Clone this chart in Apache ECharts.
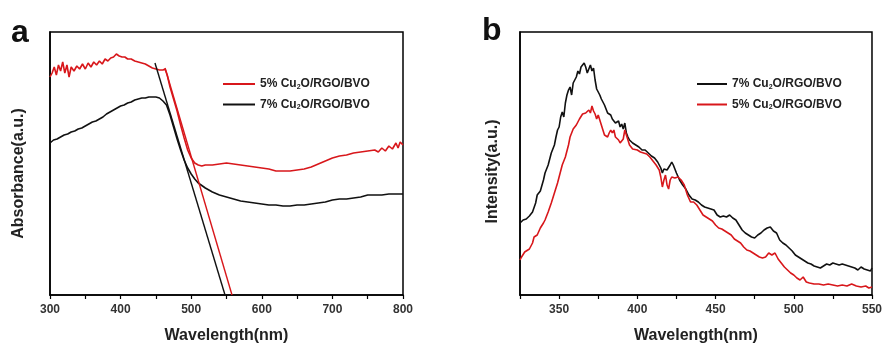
<!DOCTYPE html>
<html><head><meta charset="utf-8">
<script src="https://cdn.jsdelivr.net/npm/echarts@6/dist/echarts.min.js"></script>
<style>html,body{margin:0;padding:0;background:#fff}#c{width:885px;height:350px}</style>
</head><body><div id="c"></div>
<script>
// Panel a: absorbance (arbitrary units), [wavelength nm, value]
const absRed5 = [[300,218],[303,222],[306,228],[309,220],[312,230],[315,224],[318,233],[321,222],[324,230],[327,218],[330,228],[334,224],[338,229],[342,226],[346,231],[350,226],[354,232],[358,228],[362,233],[366,230],[370,234],[374,231],[378,236],[382,234],[386,237],[390,238],[394,241],[398,239],[402,238],[406,238],[410,236],[415,236],[420,234],[425,233],[430,232],[435,231],[440,229],[445,227],[450,226],[455,225],[460,225],[463,226],[466,220],[470,208],[475,196],[480,184],[485,170],[490,157],[495,145],[500,137],[505,132],[510,130],[515,129],[520,130],[530,130],[540,131],[550,132],[560,131],[570,130],[580,129],[590,128],[600,127],[610,126],[620,124],[630,124],[640,124],[650,125],[660,126],[670,128],[680,131],[690,134],[700,137],[710,139],[720,140],[730,142],[740,143],[750,144],[760,145],[765,143],[770,147],[775,144],[780,149],[785,146],[790,152],[793,147],[796,153],[800,150]];
const absBlack7 = [[300,152],[305,155],[310,156],[315,158],[320,160],[325,161],[330,163],[335,164],[340,166],[345,167],[350,169],[355,171],[360,173],[365,174],[370,176],[375,178],[380,181],[385,183],[390,185],[395,187],[400,189],[405,190],[410,192],[415,193],[420,195],[425,196],[430,197],[435,197],[440,198],[445,198],[450,198],[455,197],[460,194],[465,190],[470,180],[475,168],[480,156],[485,145],[490,135],[495,127],[500,121],[505,116],[510,112],[520,107],[530,103],[540,100],[550,98],[560,96],[570,94],[580,93],[590,92],[600,91],[610,90],[620,90],[630,89],[640,89],[650,90],[660,90],[670,91],[680,92],[690,93],[700,95],[710,96],[720,96],[730,97],[740,98],[750,100],[760,100],[770,100],[780,101],[790,101],[800,101]];
const tangentRed = [[463,227],[557.8,0]];
const tangentBlack = [[448.7,232],[547.9,0]];
// Panel b: PL intensity (arbitrary units)
const plBlack7 = [[325,72],[327,75],[329,76],[331,79],[333,83],[335,92],[336,100],[338,104],[340,115],[341,122],[343,130],[345,142],[346,140],[347,150],[348,158],[349,165],[350,168],[351,178],[352,183],[353,178],[354,192],[355,200],[356,205],[357,208],[358,200],[359,212],[360,210],[361,218],[362,224],[363,221],[364,228],[365,226],[366,232],[367,228],[368,222],[369,226],[370,230],[371,224],[372,227],[373,215],[374,206],[375,205],[376,200],[377,196],[378,193],[379,190],[380,188],[381,182],[382,180],[383,180],[384,176],[385,177],[386,172],[387,170],[388,174],[389,168],[390,171],[391,166],[392,172],[393,162],[394,158],[395,155],[397,152],[399,150],[401,148],[403,145],[405,145],[407,142],[409,139],[411,137],[413,133],[415,127],[416,122],[417,126],[419,125],[421,130],[422,133],[423,130],[425,122],[427,115],[429,110],[431,106],[433,100],[435,96],[437,95],[439,93],[441,90],[443,88],[445,87],[447,86],[449,85],[451,80],[453,78],[455,79],[457,78],[459,80],[461,77],[463,75],[465,70],[467,65],[469,62],[471,60],[473,58],[475,57],[477,60],[479,62],[481,65],[483,67],[485,68],[487,64],[489,62],[491,55],[493,52],[495,50],[497,47],[499,44],[501,40],[503,38],[505,36],[507,34],[509,32],[511,31],[513,29],[515,28],[517,27],[519,29],[521,31],[523,30],[525,32],[527,31],[529,30],[531,31],[533,30],[535,29],[537,28],[539,27],[541,25],[543,28],[545,26],[547,25],[549,24],[550,27]];
const plRed5 = [[325,35],[326,38],[328,43],[329,41],[331,46],[333,52],[334,58],[336,60],[338,67],[340,72],[341,75],[343,83],[345,92],[347,102],[349,112],[350,118],[352,130],[354,138],[356,150],[357,158],[358,162],[359,166],[361,170],[363,176],[364,177],[365,181],[366,180],[367,182],[368,182],[369,185],[370,182],[371,189],[372,184],[373,181],[374,176],[375,180],[376,175],[377,170],[378,165],[379,160],[380,161],[381,158],[382,162],[383,165],[384,162],[385,165],[386,158],[387,160],[388,155],[389,152],[390,150],[391,156],[392,165],[393,160],[394,155],[395,150],[396,148],[397,146],[398,148],[400,145],[402,143],[404,142],[406,141],[408,138],[410,134],[412,130],[414,125],[415,118],[416,108],[417,115],[418,120],[419,110],[420,106],[421,115],[422,118],[424,117],[426,118],[428,115],[430,110],[432,100],[434,93],[436,93],[438,90],[440,85],[442,80],[444,78],[446,76],[448,74],[450,70],[452,67],[454,66],[456,64],[458,62],[460,60],[462,56],[464,54],[466,52],[468,48],[470,45],[472,44],[474,42],[476,40],[478,38],[480,37],[482,38],[484,42],[486,40],[488,42],[490,36],[492,32],[494,28],[496,25],[498,22],[500,20],[502,17],[504,15],[506,18],[508,13],[510,12],[513,11],[516,11],[519,10],[522,11],[525,10],[528,9],[531,10],[534,9],[537,11],[540,9],[543,8],[546,9],[548,7],[550,8]];
const nameRed = '5% Cu2O/RGO/BVO';
const nameBlack = '7% Cu2O/RGO/BVO';
const labelsA = ['300','400','500','600','700','800'];
const labelsB = ['350','400','450','500','550'];

const RED = '#d8171b', BLACK = '#111111';
const FONT = 'Liberation Sans, Arial, sans-serif';
const rich = {
  n: {fontFamily: FONT, fontSize: 12, fontWeight: 'bold', color: '#222'},
  s: {fontFamily: FONT, fontSize: 7, fontWeight: 'bold', color: '#222', verticalAlign: 'bottom', padding: [6, 0, 0, 0]}
};
function legendFmt(name) {
  const i = name.indexOf('2O');
  return '{n|' + name.slice(0, i) + '}{s|2}{n|' + name.slice(i + 1) + '}';
}
function xAx(gi, min, max, interval, labels) {
  return {
    type: 'value', gridIndex: gi, min: min, max: max, interval: interval,
    name: 'Wavelength(nm)', nameLocation: 'middle', nameGap: 33,
    nameTextStyle: {fontFamily: FONT, fontSize: 16, fontWeight: 'bold', color: '#222'},
    axisLine: {lineStyle: {color: '#000', width: 1.5}},
    axisTick: {show: true, inside: false, length: 4, lineStyle: {color: '#000', width: 1.2}},
    axisLabel: {margin: 9, fontFamily: FONT, fontSize: 12, fontWeight: 'bold', color: '#333',
      formatter: v => labels.indexOf(String(Math.round(v))) >= 0 ? String(Math.round(v)) : ''},
    splitLine: {show: false}
  };
}
function yAx(gi, name, gap, shift) {
  return {
    type: 'value', gridIndex: gi, min: 0, max: 263,
    name: name, nameLocation: 'middle', nameGap: gap,
    nameTextStyle: {fontFamily: FONT, fontSize: 16, fontWeight: 'bold', color: '#222', padding: [0, shift, 0, 0]},
    axisLine: {show: true, lineStyle: {color: '#000', width: 1.5}},
    axisTick: {show: false}, axisLabel: {show: false}, splitLine: {show: false}
  };
}
function ln(name, data, color, xi, w) {
  return {type: 'line', name: name, data: data, xAxisIndex: xi, yAxisIndex: xi,
    showSymbol: false, symbol: 'none', lineStyle: {color: color, width: w || 1.6}, itemStyle: {color: color},
    animation: false, silent: true, clip: true};
}
const chart = echarts.init(document.getElementById('c'), null, {renderer: 'canvas'});
chart.setOption({
  backgroundColor: '#fff',
  animation: false,
  grid: [
    {left: 50, right: 482, top: 32, bottom: 55, show: true, borderColor: '#000', borderWidth: 1.5},
    {left: 520, right: 11, top: 32, bottom: 55, show: true, borderColor: '#000', borderWidth: 1.5}
  ],
  xAxis: [xAx(0, 300, 800, 50, labelsA), xAx(1, 325, 550, 25, labelsB)],
  yAxis: [yAx(0, 'Absorbance(a.u.)', 23, 20), yAx(1, 'Intensity(a.u.)', 19, 16)],
  legend: [
    {data: [nameRed, nameBlack], orient: 'vertical', left: 223, top: 78, itemWidth: 32, itemHeight: 2, itemGap: 8,
      icon: 'rect', formatter: legendFmt, textStyle: {rich: rich}, selectedMode: false, padding: 0},
    {data: [nameBlack, nameRed], orient: 'vertical', left: 697, top: 78, itemWidth: 30, itemHeight: 2, itemGap: 8,
      icon: 'rect', formatter: legendFmt, textStyle: {rich: rich}, selectedMode: false, padding: 0}
  ],
  graphic: [
    {type: 'text', left: 11, top: 17, style: {text: 'a', font: 'bold 32px ' + FONT, fill: '#111'}},
    {type: 'text', left: 482, top: 15, style: {text: 'b', font: 'bold 32px ' + FONT, fill: '#111'}}
  ],
  series: [
    ln(nameRed, absRed5, RED, 0),
    ln(nameBlack, absBlack7, BLACK, 0),
    ln('tr', tangentRed, RED, 0, 1.4),
    ln('tb', tangentBlack, BLACK, 0, 1.4),
    ln(nameBlack, plBlack7, BLACK, 1),
    ln(nameRed, plRed5, RED, 1)
  ]
});
</script></body></html>
